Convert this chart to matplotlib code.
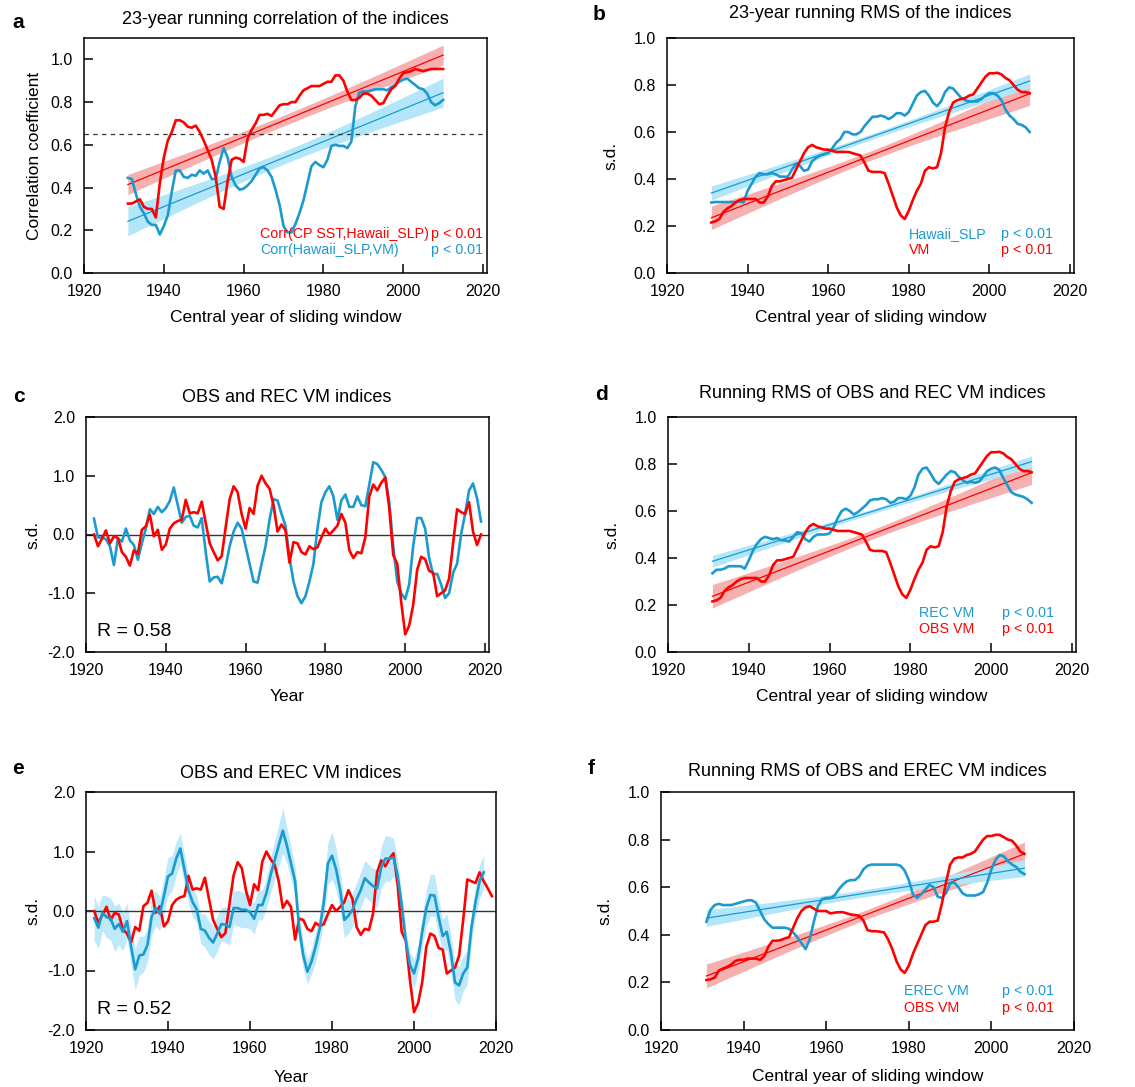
import numpy as np
import matplotlib
matplotlib.use('Agg')
import matplotlib.pyplot as plt

plt.rcParams['font.family'] = ['Liberation Sans', 'DejaVu Sans']
plt.rcParams['axes.unicode_minus'] = False

RED = '#ff0000'
BLUE = '#1b9ad0'
RED_BAND = '#f7b0b0'
BLUE_BAND = '#b3e6f9'

W, H = 1135, 1087

# central years of the 23-year sliding window
run_years = np.arange(1931, 2011)
run_years_f = np.arange(1931, 2009)

# panel a
corr_cp_hawaii = [
	0.325, 0.325, 0.335, 0.345, 0.31, 0.30, 0.30, 0.26, 0.42, 0.54,
	0.62, 0.66, 0.715, 0.715, 0.705, 0.685, 0.68, 0.69, 0.66, 0.62,
	0.575, 0.53, 0.45, 0.31, 0.30, 0.43, 0.53, 0.54, 0.535, 0.52,
	0.63, 0.67, 0.70, 0.74, 0.74, 0.745, 0.735, 0.76, 0.785, 0.79,
	0.79, 0.80, 0.80, 0.83, 0.855, 0.865, 0.875, 0.875, 0.875, 0.885,
	0.895, 0.895, 0.925, 0.925, 0.90, 0.85, 0.81, 0.81, 0.82, 0.84,
	0.84, 0.83, 0.81, 0.79, 0.795, 0.83, 0.86, 0.875, 0.91, 0.935,
	0.94, 0.945, 0.955, 0.95, 0.945, 0.95, 0.955, 0.955, 0.955, 0.955]
corr_hawaii_vm = [
	0.445, 0.44, 0.37, 0.31, 0.28, 0.24, 0.225, 0.225, 0.18, 0.22,
	0.27, 0.38, 0.48, 0.48, 0.45, 0.445, 0.46, 0.455, 0.48, 0.465,
	0.48, 0.44, 0.44, 0.52, 0.585, 0.54, 0.45, 0.41, 0.39, 0.395,
	0.41, 0.43, 0.46, 0.49, 0.495, 0.48, 0.45, 0.39, 0.32, 0.22,
	0.19, 0.19, 0.23, 0.28, 0.34, 0.42, 0.50, 0.52, 0.505, 0.495,
	0.53, 0.595, 0.60, 0.595, 0.595, 0.585, 0.615, 0.78, 0.845, 0.85,
	0.85, 0.855, 0.86, 0.86, 0.86, 0.855, 0.87, 0.88, 0.895, 0.905,
	0.91, 0.895, 0.88, 0.865, 0.86, 0.84, 0.80, 0.785, 0.795, 0.81]

# panels b, d
rms_hawaii_slp = [
	0.30, 0.302, 0.302, 0.302, 0.302, 0.302, 0.302, 0.305, 0.30, 0.35,
	0.38, 0.41, 0.425, 0.42, 0.42, 0.425, 0.42, 0.41, 0.41, 0.41,
	0.44, 0.465, 0.455, 0.435, 0.44, 0.475, 0.49, 0.50, 0.505, 0.51,
	0.53, 0.555, 0.57, 0.60, 0.60, 0.59, 0.59, 0.60, 0.625, 0.645,
	0.665, 0.665, 0.67, 0.665, 0.655, 0.665, 0.68, 0.68, 0.67, 0.685,
	0.72, 0.755, 0.77, 0.775, 0.755, 0.725, 0.71, 0.73, 0.77, 0.79,
	0.785, 0.765, 0.745, 0.735, 0.73, 0.73, 0.73, 0.74, 0.755, 0.765,
	0.765, 0.755, 0.735, 0.695, 0.67, 0.655, 0.635, 0.63, 0.62, 0.60]
rms_obs_vm = [
	0.215, 0.22, 0.23, 0.26, 0.275, 0.285, 0.30, 0.31, 0.315, 0.315,
	0.315, 0.315, 0.30, 0.30, 0.325, 0.37, 0.39, 0.39, 0.395, 0.40,
	0.405, 0.44, 0.475, 0.51, 0.535, 0.545, 0.535, 0.53, 0.525, 0.525,
	0.52, 0.515, 0.515, 0.515, 0.515, 0.51, 0.505, 0.50, 0.47, 0.435,
	0.43, 0.43, 0.43, 0.425, 0.38, 0.33, 0.28, 0.245, 0.23, 0.265,
	0.31, 0.35, 0.38, 0.435, 0.45, 0.445, 0.45, 0.51, 0.62, 0.685,
	0.725, 0.735, 0.74, 0.745, 0.755, 0.76, 0.785, 0.81, 0.835, 0.85,
	0.85, 0.852, 0.845, 0.83, 0.82, 0.80, 0.78, 0.77, 0.77, 0.765]
rms_rec_vm = [
	0.335, 0.35, 0.35, 0.355, 0.365, 0.365, 0.365, 0.365, 0.355, 0.39,
	0.43, 0.46, 0.48, 0.49, 0.485, 0.48, 0.485, 0.475, 0.475, 0.47,
	0.49, 0.51, 0.505, 0.48, 0.47, 0.49, 0.50, 0.50, 0.50, 0.505,
	0.53, 0.57, 0.60, 0.61, 0.60, 0.585, 0.595, 0.61, 0.625, 0.645,
	0.65, 0.65, 0.655, 0.65, 0.635, 0.64, 0.655, 0.655, 0.65, 0.665,
	0.70, 0.755, 0.78, 0.785, 0.76, 0.73, 0.715, 0.735, 0.755, 0.77,
	0.765, 0.745, 0.73, 0.72, 0.725, 0.72, 0.725, 0.745, 0.77, 0.78,
	0.785, 0.775, 0.74, 0.71, 0.68, 0.67, 0.665, 0.66, 0.65, 0.635]

# panel f
rms_erec_vm = [
	0.455, 0.505, 0.525, 0.53, 0.525, 0.525, 0.525, 0.53, 0.535, 0.54,
	0.545, 0.545, 0.535, 0.50, 0.465, 0.445, 0.43, 0.43, 0.43, 0.43,
	0.425, 0.41, 0.39, 0.365, 0.34, 0.38, 0.455, 0.52, 0.55, 0.555,
	0.555, 0.565, 0.59, 0.61, 0.625, 0.63, 0.63, 0.645, 0.675, 0.69,
	0.695, 0.695, 0.695, 0.695, 0.695, 0.695, 0.695, 0.69, 0.67, 0.63,
	0.57, 0.555, 0.57, 0.59, 0.61, 0.60, 0.56, 0.555, 0.575, 0.615,
	0.62, 0.60, 0.575, 0.565, 0.565, 0.565, 0.57, 0.58, 0.62, 0.675,
	0.715, 0.735, 0.73, 0.71, 0.695, 0.685, 0.665, 0.655]
rms_obs_vm_f = [
	0.21, 0.213, 0.22, 0.25, 0.258, 0.265, 0.275, 0.29, 0.295, 0.295,
	0.30, 0.30, 0.30, 0.295, 0.31, 0.35, 0.375, 0.375, 0.378, 0.385,
	0.39, 0.43, 0.47, 0.50, 0.515, 0.52, 0.51, 0.50, 0.50, 0.50,
	0.49, 0.493, 0.495, 0.495, 0.49, 0.485, 0.483, 0.48, 0.46, 0.42,
	0.415, 0.415, 0.413, 0.41, 0.38, 0.34, 0.29, 0.255, 0.24, 0.27,
	0.32, 0.36, 0.40, 0.44, 0.455, 0.455, 0.46, 0.53, 0.62, 0.695,
	0.72, 0.725, 0.725, 0.735, 0.74, 0.75, 0.775, 0.80, 0.815, 0.815,
	0.82, 0.82, 0.81, 0.80, 0.795, 0.775, 0.75, 0.74]

# panels c, e (annual indices)
years = np.arange(1922, 2020)
obs_vm = [
	0.0, -0.2, -0.07, 0.07, -0.15, -0.03, -0.06, -0.3, -0.38, -0.53,
	-0.27, -0.33, 0.08, 0.14, 0.34, -0.03, 0.08, -0.26, -0.17, 0.1,
	0.19, 0.23, 0.25, 0.59, 0.36, 0.38, 0.36, 0.56, 0.2, -0.15,
	-0.3, -0.44, -0.37, 0.12, 0.6, 0.82, 0.72, 0.35, 0.1, 0.45,
	0.35, 0.83, 1.0, 0.87, 0.78, 0.5, 0.05, 0.17, 0.07, -0.48,
	-0.13, -0.15, -0.3, -0.34, -0.2, -0.25, -0.22, -0.05, 0.1, 0.0,
	0.07, 0.15, 0.35, 0.2, -0.27, -0.4, -0.3, -0.32, -0.05, 0.65,
	0.85, 0.75, 0.88, 0.97, 0.45, -0.35, -0.5, -1.15, -1.7, -1.55,
	-1.2, -0.6, -0.38, -0.42, -0.62, -0.65, -1.05, -1.0, -0.95, -0.75,
	-0.15, 0.43, 0.38, 0.35, 0.55, 0.05, -0.18, 0.0]
rec_vm = [
	0.27, -0.05, -0.05, -0.08, -0.2, -0.52, -0.07, -0.12, 0.1, -0.1,
	-0.18, -0.43, -0.15, 0.1, 0.43, 0.35, 0.47, 0.38, 0.45, 0.57,
	0.8, 0.5, 0.2, 0.3, 0.32, 0.15, 0.12, 0.28, -0.3, -0.8,
	-0.73, -0.72, -0.83, -0.55, -0.2, 0.05, 0.2, 0.1, -0.2, -0.5,
	-0.8, -0.82, -0.5, -0.2, 0.25, 0.6, 0.58, 0.35, 0.15, -0.4,
	-0.8, -1.05, -1.17, -1.05, -0.8, -0.5, 0.1, 0.55, 0.72, 0.82,
	0.65, 0.25, 0.58, 0.68, 0.47, 0.47, 0.65, 0.5, 0.48, 0.85,
	1.23, 1.2, 1.1, 0.98, 0.55, -0.2, -0.8, -1.0, -1.1, -0.85,
	-0.2, 0.28, 0.28, 0.1, -0.4, -0.68, -0.67, -0.85, -1.08, -1.0,
	-0.65, -0.5, 0.0, 0.35, 0.75, 0.87, 0.62, 0.22]
obs_vm_e = obs_vm[:-7] + [0.53, 0.5, 0.47, 0.65, 0.5, 0.38, 0.25]

years_erec = np.arange(1922, 2018)
erec_vm = [
	-0.12, -0.28, -0.03, -0.1, -0.13, -0.3, -0.22, -0.35, -0.17, -0.6,
	-0.98, -0.75, -0.73, -0.57, -0.1, 0.05, -0.05, 0.25, 0.58, 0.63,
	0.88, 1.05, 0.7, 0.35, 0.15, 0.03, -0.3, -0.33, -0.45, -0.53,
	-0.38, -0.22, -0.23, -0.27, 0.05, 0.05, 0.02, 0.02, -0.02, -0.13,
	0.1, 0.1, 0.3, 0.6, 0.85, 1.1, 1.35, 1.1, 0.8, 0.5,
	-0.3, -0.75, -1.02, -0.85, -0.6, -0.3, 0.15, 0.8, 0.93, 0.7,
	0.35, -0.15, -0.08, 0.02, 0.2, 0.35, 0.55, 0.48, 0.42, 0.38,
	0.73, 0.88, 0.88, 0.9, 0.6, 0.1, -0.5, -0.9, -1.05, -0.8,
	-0.35, 0.05, 0.27, 0.26, -0.1, -0.42, -0.35, -0.7, -1.2, -1.25,
	-1.05, -0.95, -0.28, 0.15, 0.5, 0.65]
erec_spread = [
	0.38, 0.35, 0.3, 0.35, 0.35, 0.38, 0.35, 0.32, 0.3, 0.3,
	0.35, 0.33, 0.3, 0.28, 0.3, 0.3, 0.28, 0.3, 0.32, 0.3,
	0.28, 0.26, 0.25, 0.22, 0.25, 0.22, 0.25, 0.28, 0.28, 0.28,
	0.3, 0.28, 0.3, 0.3, 0.28, 0.3, 0.3, 0.3, 0.28, 0.26,
	0.25, 0.25, 0.25, 0.3, 0.32, 0.35, 0.38, 0.3, 0.28, 0.25,
	0.25, 0.22, 0.2, 0.22, 0.25, 0.25, 0.3, 0.35, 0.4, 0.35,
	0.3, 0.3, 0.3, 0.28, 0.28, 0.3, 0.3, 0.3, 0.3, 0.32,
	0.35, 0.38, 0.38, 0.32, 0.25, 0.2, 0.2, 0.2, 0.25, 0.22,
	0.25, 0.3, 0.35, 0.35, 0.3, 0.28, 0.3, 0.3, 0.3, 0.32,
	0.3, 0.28, 0.25, 0.25, 0.28, 0.28]

TITLE = 13
TICK = 11.5
LABEL = 12.5
LEG = 10.3
RTXT = 14


def fx(px):
	return px / W

def fy(py):
	return 1 - py / H

def axes_at(fig, left, top, right, bottom):
	return fig.add_axes([fx(left), fy(bottom), (right - left) / W, (bottom - top) / H])

def style(ax, xmax, ylim, yticks):
	ax.set_xlim(1920, xmax)
	ax.set_ylim(*ylim)
	ax.set_xticks(range(1920, 2021, 20))
	ax.set_yticks(yticks)
	ax.set_yticklabels([f'{v:.1f}' for v in yticks])
	ax.tick_params(direction='in', length=6.5, width=1.1, labelsize=TICK, pad=8,
		top=False, right=False)
	for s in ax.spines.values():
		s.set_linewidth(1.1)

def trend(ax, x, start, end, hw_end, hw_mid, color, band):
	xs = np.linspace(x[0], x[-1], 200)
	line = np.linspace(start, end, 200)
	s = (xs - xs.mean()) / (xs[-1] - xs.mean())
	hw = np.sqrt(hw_mid ** 2 + (hw_end ** 2 - hw_mid ** 2) * s ** 2)
	ax.fill_between(xs, line - hw, line + hw, color=band, lw=0, zorder=1)
	ax.plot(xs, line, color=color, lw=0.9, zorder=2)

def legend(ax, x, pr, y1, y2, top, bottom):
	(t1, c1), (t2, c2) = top, bottom
	for y, t, c in [(y1, t1, c1), (y2, t2, c2)]:
		ax.text(x, y, t, color=c, fontsize=LEG, transform=ax.transAxes, va='center')
		ax.text(pr, y, 'p < 0.01', color=c, fontsize=LEG, transform=ax.transAxes,
			va='center', ha='right')

def labels(ax, xlabel, ylabel, xpad, ypad):
	ax.set_xlabel(xlabel, fontsize=LABEL, labelpad=xpad)
	ax.set_ylabel(ylabel, fontsize=LABEL, labelpad=ypad)


fig = plt.figure(figsize=(W / 100, H / 100), dpi=100)

rms_ticks = [0.0, 0.2, 0.4, 0.6, 0.8, 1.0]
idx_ticks = [-2.0, -1.0, 0.0, 1.0, 2.0]
window = 'Central year of sliding window'

# a
ax = axes_at(fig, 84, 38, 487, 273)
style(ax, 2021, (0, 1.1), rms_ticks)
trend(ax, run_years, 0.414, 1.02, 0.047, 0.025, RED, RED_BAND)
trend(ax, run_years, 0.242, 0.844, 0.068, 0.03, BLUE, BLUE_BAND)
ax.axhline(0.65, color='#333333', lw=0.9, ls=(0, (3.5, 3.5)), zorder=2)
ax.plot(run_years, corr_hawaii_vm, color=BLUE, lw=1.9, zorder=3)
ax.plot(run_years, corr_cp_hawaii, color=RED, lw=1.9, zorder=3)
labels(ax, window, 'Correlation coefficient', 8, 6)
legend(ax, 0.437, 0.99, 0.166, 0.098,
	('Corr(CP SST,Hawaii_SLP)', RED), ('Corr(Hawaii_SLP,VM)', BLUE))

# b
ax = axes_at(fig, 667, 38, 1074, 273)
style(ax, 2021, (0, 1.0), rms_ticks)
trend(ax, run_years, 0.235, 0.763, 0.05, 0.02, RED, RED_BAND)
trend(ax, run_years, 0.34, 0.817, 0.03, 0.012, BLUE, BLUE_BAND)
ax.plot(run_years, rms_hawaii_slp, color=BLUE, lw=1.9, zorder=3)
ax.plot(run_years, rms_obs_vm, color=RED, lw=1.9, zorder=3)
labels(ax, window, 's.d.', 8, 11)
legend(ax, 0.595, 0.948, 0.166, 0.098, ('Hawaii_SLP', BLUE), ('VM', RED))

# c
ax = axes_at(fig, 86, 417, 489, 652)
style(ax, 2021, (-2, 2), idx_ticks)
ax.axhline(0, color='#333333', lw=1.0, zorder=1)
ax.plot(years, rec_vm, color=BLUE, lw=1.9, zorder=3)
ax.plot(years, obs_vm, color=RED, lw=1.9, zorder=3)
ax.text(0.027, 0.089, 'R = 0.58', fontsize=RTXT, transform=ax.transAxes, va='center')
labels(ax, 'Year', 's.d.', 8, 5)

# d
ax = axes_at(fig, 668, 417, 1076, 652)
style(ax, 2021, (0, 1.0), rms_ticks)
trend(ax, run_years, 0.237, 0.763, 0.05, 0.02, RED, RED_BAND)
trend(ax, run_years, 0.386, 0.81, 0.025, 0.01, BLUE, BLUE_BAND)
ax.plot(run_years, rms_rec_vm, color=BLUE, lw=1.9, zorder=3)
ax.plot(run_years, rms_obs_vm, color=RED, lw=1.9, zorder=3)
labels(ax, window, 's.d.', 8, 11)
legend(ax, 0.615, 0.946, 0.166, 0.098, ('REC VM', BLUE), ('OBS VM', RED))

# e
ax = axes_at(fig, 86, 792, 496, 1030)
style(ax, 2019.1, (-2, 2), idx_ticks)
ax.axhline(0, color='#333333', lw=1.0, zorder=2)
lo = np.array(erec_vm) - np.array(erec_spread)
hi = np.array(erec_vm) + np.array(erec_spread)
ax.fill_between(years_erec, lo, hi, color='#bde9fb', lw=0, zorder=1)
ax.plot(years, obs_vm_e, color=RED, lw=1.9, zorder=3)
ax.plot(years_erec, erec_vm, color=BLUE, lw=1.9, zorder=3)
ax.text(0.027, 0.088, 'R = 0.52', fontsize=RTXT, transform=ax.transAxes, va='center')
labels(ax, 'Year', 's.d.', 10, 5)

# f
ax = axes_at(fig, 661, 792, 1074, 1030)
style(ax, 2019.3, (0, 1.0), rms_ticks)
trend(ax, run_years_f, 0.227, 0.74, 0.05, 0.02, RED, RED_BAND)
trend(ax, run_years_f, 0.47, 0.68, 0.035, 0.015, BLUE, BLUE_BAND)
ax.plot(run_years_f, rms_erec_vm, color=BLUE, lw=1.9, zorder=3)
ax.plot(run_years_f, rms_obs_vm_f, color=RED, lw=1.9, zorder=3)
labels(ax, window, 's.d.', 9, 11)
legend(ax, 0.588, 0.952, 0.164, 0.092, ('EREC VM', BLUE), ('OBS VM', RED))

# titles and panel letters
titles = [
	(285, 20, '23-year running correlation of the indices'),
	(870, 14, '23-year running RMS of the indices'),
	(287, 397, 'OBS and REC VM indices'),
	(872, 393, 'Running RMS of OBS and REC VM indices'),
	(291, 774, 'OBS and EREC VM indices'),
	(867, 772, 'Running RMS of OBS and EREC VM indices'),
]
for x, y, t in titles:
	fig.text(fx(x), fy(y), t, fontsize=TITLE, ha='center', va='center')

letters = [(18, 22, 'a'), (599, 15, 'b'), (19, 396, 'c'),
	(601, 394, 'd'), (18, 769, 'e'), (591, 768, 'f')]
for x, y, t in letters:
	fig.text(fx(x), fy(y), t, fontsize=15, fontweight='bold', ha='center', va='center')

fig.savefig('out.png', dpi=100)
